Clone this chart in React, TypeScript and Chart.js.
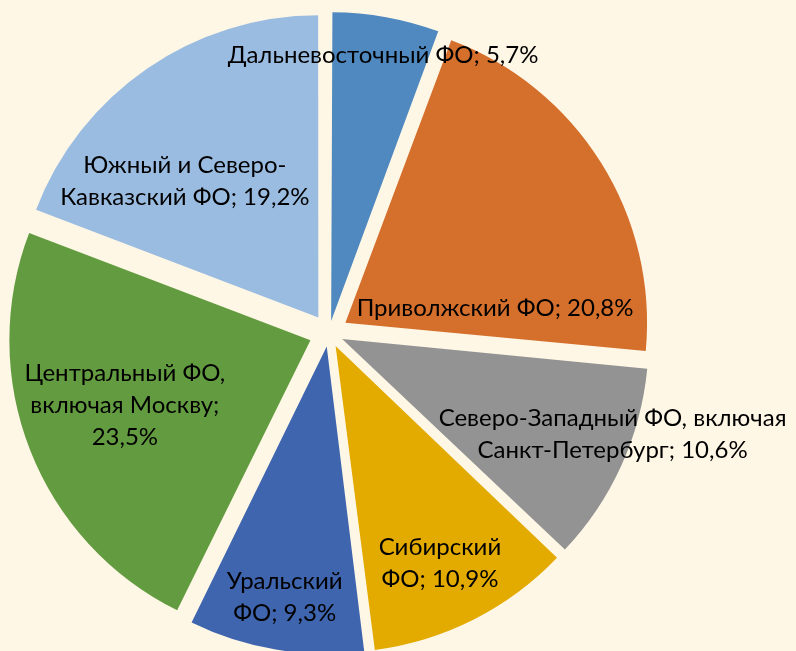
import React, { useEffect, useRef } from "react";
import { Chart, registerables } from "chart.js";

Chart.register(...registerables);

const categories = [
  "Дальневосточный ФО",
  "Приволжский ФО",
  "Северо-Западный ФО, включая Санкт-Петербург",
  "Сибирский ФО",
  "Уральский ФО",
  "Центральный ФО, включая Москву",
  "Южный и Северо-Кавказский ФО",
];

const values = [5.7, 20.8, 10.6, 10.9, 9.3, 23.5, 19.2];

const labelLines = [
  ["Дальневосточный ФО; 5,7%"],
  ["Приволжский ФО; 20,8%"],
  ["Северо-Западный ФО, включая", "Санкт-Петербург; 10,6%"],
  ["Сибирский", "ФО; 10,9%"],
  ["Уральский", "ФО; 9,3%"],
  ["Центральный ФО,", "включая Москву;", "23,5%"],
  ["Южный и Северо-", "Кавказский ФО; 19,2%"],
];

const colors = ["#4F89BF", "#D46F2C", "#939393", "#E3AA00", "#3E65AE", "#639C40", "#9BBCE1"];

// label placement: fraction of slice angle, fraction of radius
const labelAngleFrac = [0.536, 0.813, 0.372, 0.527, 0.5, 0.524, 0.371];
const labelRadiusFrac = [0.941, 0.558, 1.0, 0.848, 0.889, 0.719, 0.696];

const EXPLODE = 20;
const FONT = "Lato";
const FONT_SIZE = 24;
const LINE_H = 32;

const labelPlugin = {
  id: "sliceLabels",
  afterDatasetsDraw(chart: any) {
    const ctx = chart.ctx;
    const meta = chart.getDatasetMeta(0);
    ctx.save();
    ctx.font = `${FONT_SIZE}px ${FONT}`;
    ctx.fillStyle = "#000";
    ctx.textAlign = "center";
    ctx.textBaseline = "middle";
    meta.data.forEach((arc: any, i: number) => {
      const { x, y, startAngle, endAngle, outerRadius } = arc.getProps(
        ["x", "y", "startAngle", "endAngle", "outerRadius"],
        true
      );
      const a = startAngle + (endAngle - startAngle) * labelAngleFrac[i];
      const r = outerRadius * labelRadiusFrac[i];
      const cx = x + Math.cos(a) * r;
      const cy = y + Math.sin(a) * r;
      const lines = labelLines[i];
      const top = cy - ((lines.length - 1) * LINE_H) / 2;
      lines.forEach((l, j) => ctx.fillText(l, cx, top + j * LINE_H));
    });
    ctx.restore();
  },
};

export default function App() {
  const ref = useRef<HTMLCanvasElement>(null);
  useEffect(() => {
    if (!ref.current) return;
    const total = values.reduce((s, v) => s + v, 0);
    const chart = new Chart(ref.current, {
      type: "pie",
      data: {
        labels: categories,
        datasets: [
          {
            data: values,
            backgroundColor: colors,
            borderWidth: 0,
            offset: (c: any) => {
              const circ = (values[c.dataIndex] / total) * Math.PI * 2;
              const fix = 1 - Math.sin(Math.min(Math.PI, circ));
              return (EXPLODE * 4) / (1 + fix);
            },
          } as any,
        ],
      },
      options: {
        responsive: false,
        animation: false,
        devicePixelRatio: 1,
        radius: 301,
        layout: { padding: { left: 0, right: 138, top: 15, bottom: 0 } },
        plugins: {
          legend: { display: false },
          tooltip: { enabled: false },
        },
      } as any,
      plugins: [labelPlugin],
    });
    return () => chart.destroy();
  }, []);
  return (
    <div
      style={{
        position: "fixed",
        left: 0,
        top: 0,
        width: 796,
        height: 651,
        background: "#FFF7E6",
      }}
    >
      <canvas ref={ref} width={796} height={651} style={{ display: "block" }} />
    </div>
  );
}
